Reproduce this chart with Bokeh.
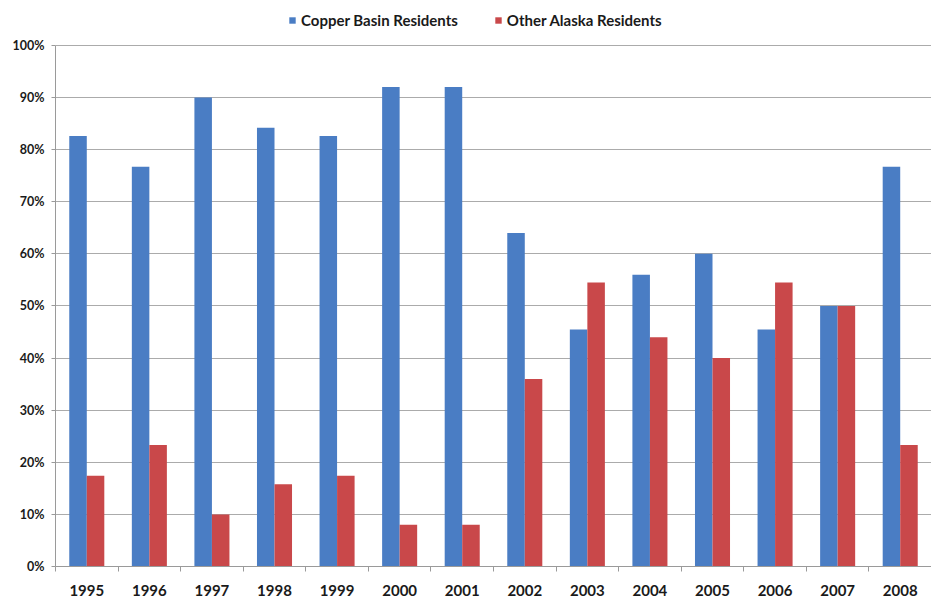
from bokeh.plotting import figure
from bokeh.models import (ColumnDataSource, FixedTicker, NumeralTickFormatter, Range1d,
                          Legend, LegendItem)
from bokeh.transform import dodge
from bokeh.embed import file_html
from bokeh.resources import INLINE

years = ["1995", "1996", "1997", "1998", "1999", "2000", "2001",
         "2002", "2003", "2004", "2005", "2006", "2007", "2008"]
copper_basin = [0.826, 0.767, 0.90, 0.842, 0.826, 0.92, 0.92,
                0.64, 0.455, 0.56, 0.60, 0.455, 0.50, 0.767]
other_alaska = [0.174, 0.233, 0.10, 0.158, 0.174, 0.08, 0.08,
                0.36, 0.545, 0.44, 0.40, 0.545, 0.50, 0.233]
y_ticks = [0.0, 0.1, 0.2, 0.3, 0.4, 0.5, 0.6, 0.7, 0.8, 0.9, 1.0]

BLUE = "#4A7DC4"
RED = "#C9484A"
FONT = "Lato"

idx = list(range(len(years)))
src = ColumnDataSource(dict(x=idx, copper=copper_basin, other=other_alaska))

# frame spans 5..567 px; 0..1 occupies 45..567 px, the rest holds the legend
p = figure(width=931, height=598, output_backend="svg", toolbar_location=None,
           x_range=Range1d(-0.5, len(years) - 0.5), y_range=Range1d(0, 562 / 522),
           min_border_left=55, min_border_right=0, min_border_bottom=31, min_border_top=5)

r1 = p.vbar(x=dodge("x", -0.14), top="copper", width=0.28, source=src,
            fill_color=BLUE, line_color=None)
r2 = p.vbar(x=dodge("x", 0.14), top="other", width=0.28, source=src,
            fill_color=RED, line_color=None)

p.outline_line_color = None
p.background_fill_color = "white"
p.border_fill_color = "white"

# x axis
p.xaxis.ticker = FixedTicker(ticks=idx, minor_ticks=[i - 0.5 for i in idx] + [len(years) - 0.5])
p.xaxis.major_label_overrides = {i: y for i, y in enumerate(years)}
p.xaxis.major_tick_out = 0
p.xaxis.major_tick_in = 0
p.xaxis.minor_tick_out = 5
p.xaxis.minor_tick_in = 0
p.xaxis.minor_tick_line_color = "#9A9A9A"
p.xaxis.axis_line_color = "#9A9A9A"
p.xaxis.major_label_text_font = FONT
p.xaxis.major_label_text_font_style = "bold"
p.xaxis.major_label_text_font_size = "15px"
p.xaxis.major_label_text_color = "#1A1A1A"
p.xaxis.major_label_standoff = 13
p.xgrid.grid_line_color = None

# y axis
p.yaxis.ticker = FixedTicker(ticks=y_ticks)
p.yaxis.bounds = (0, 1)
p.yaxis.formatter = NumeralTickFormatter(format="0%")
p.yaxis.major_tick_out = 4
p.yaxis.major_tick_in = 0
p.yaxis.minor_tick_line_color = None
p.yaxis.major_tick_line_color = "#9A9A9A"
p.yaxis.axis_line_color = "#9A9A9A"
p.yaxis.major_label_text_font = FONT
p.yaxis.major_label_text_font_style = "bold"
p.yaxis.major_label_text_font_size = "12.5px"
p.yaxis.major_label_text_color = "#1A1A1A"
p.yaxis.major_label_standoff = 7
p.ygrid.grid_line_color = "#ABABAB"
p.ygrid.grid_line_width = 1

legend = Legend(items=[LegendItem(label="Copper Basin Residents", renderers=[r1]),
                       LegendItem(label="Other Alaska Residents", renderers=[r2])],
                orientation="horizontal", location=(233, 537))
legend.label_text_font = FONT
legend.label_text_font_style = "bold"
legend.label_text_font_size = "15px"
legend.label_text_color = "#1A1A1A"
legend.glyph_width = 8
legend.glyph_height = 8
legend.label_standoff = 5
legend.spacing = 36
legend.padding = 5
legend.margin = 0
legend.border_line_color = None
legend.background_fill_alpha = 0
p.add_layout(legend, "center")

open("out.html", "w").write(file_html(p, INLINE))
